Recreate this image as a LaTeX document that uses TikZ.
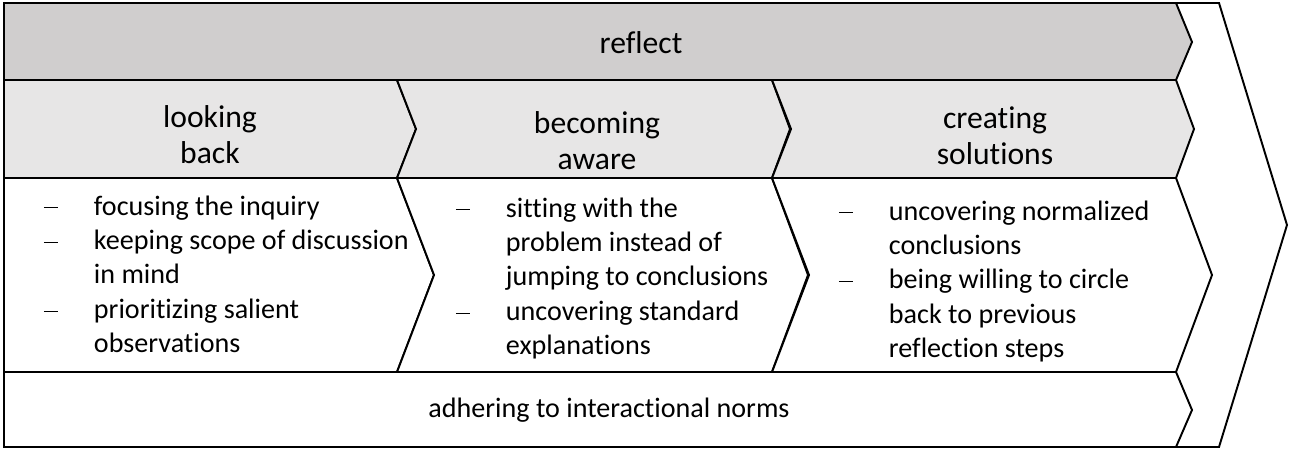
\documentclass[tikz,border=0pt]{standalone}
\usepackage{fontspec}
\setmainfont{Carlito}[Ligatures=NoCommon]
\definecolor{bandgray}{HTML}{D0CECE}
\definecolor{headgray}{HTML}{E7E6E6}
\newcommand{\dashmark}{\makebox[1cm][l]{\rule[0.24em]{0.29cm}{0.5pt}}}

\begin{document}
\begin{tikzpicture}[x=0.02cm,y=-0.02cm,line width=1.1pt,line join=miter,
  panel/.style={draw=black,line width=1.1pt},
  headtxt/.style={font=\fontsize{18}{20.5}\selectfont,align=center,inner sep=0pt},
  itemtxt/.style={font=\fontsize{16}{19.6}\selectfont,anchor=west,inner sep=0pt}]
\useasboundingbox (0,0) rectangle (1290,450);
% ---------- outer chevron ----------
\draw[panel,fill=white] (4,3) -- (1219,3) -- (1287,225) -- (1219,447) -- (4,447) -- cycle;
% ---------- reflect band ----------
\draw[panel,fill=bandgray] (4,3) -- (1176,3) -- (1192,42) -- (1176,80) -- (4,80) -- cycle;
\node[headtxt] (reflect) at (641,43) {reflect};
% ---------- header row ----------
\draw[panel,fill=headgray] (4,80) -- (397,80) -- (416,129) -- (397,178) -- (4,178) -- cycle;
\foreach \xa/\xb in {397/772,772/1176}{
  \draw[panel,fill=headgray] (\xa,80) -- (\xb,80) -- ({\xb+18},129) -- (\xb,178)
    -- (\xa,178) -- ({\xa+19},129) -- cycle;}
\node[headtxt] (looking) at (210,135) {looking\\back};
\node[headtxt] (aware) at (597,141) {becoming\\aware};
\node[headtxt] (solutions) at (995,136) {creating\\solutions};
% ---------- content row ----------
\draw[panel,fill=white] (4,178) -- (397,178) -- (434,275) -- (397,372) -- (4,372) -- cycle;
\foreach \xa/\xb in {397/772,772/1176}{
  \draw[panel,fill=white] (\xa,178) -- (\xb,178) -- ({\xb+36},275) -- (\xb,372)
    -- (\xa,372) -- ({\xa+37},275) -- cycle;}
\node[itemtxt] (items1) at (43,277) {\begin{tabular}{@{}l@{}l@{}}
  \dashmark & focusing the inquiry\\
  \dashmark & keeping scope of discussion\\
            & in mind\\
  \dashmark & prioritizing salient\\
            & observations
  \end{tabular}};
\node[itemtxt] (items2) at (455,279) {\begin{tabular}{@{}l@{}l@{}}
  \dashmark & sitting with the\\
            & problem instead of\\
            & jumping to conclusions\\
  \dashmark & uncovering standard\\
            & explanations
  \end{tabular}};
\node[itemtxt] (items3) at (838,282) {\begin{tabular}{@{}l@{}l@{}}
  \dashmark & uncovering normalized\\
            & conclusions\\
  \dashmark & being willing to circle\\
            & back to previous\\
            & reflection steps
  \end{tabular}};
% ---------- bottom band ----------
\draw[panel,fill=white] (4,372) -- (1176,372) -- (1192,410) -- (1176,447) -- (4,447) -- cycle;
\node[itemtxt,anchor=center] (norms) at (609,410) {adhering to interactional norms};
\end{tikzpicture}
\end{document}
